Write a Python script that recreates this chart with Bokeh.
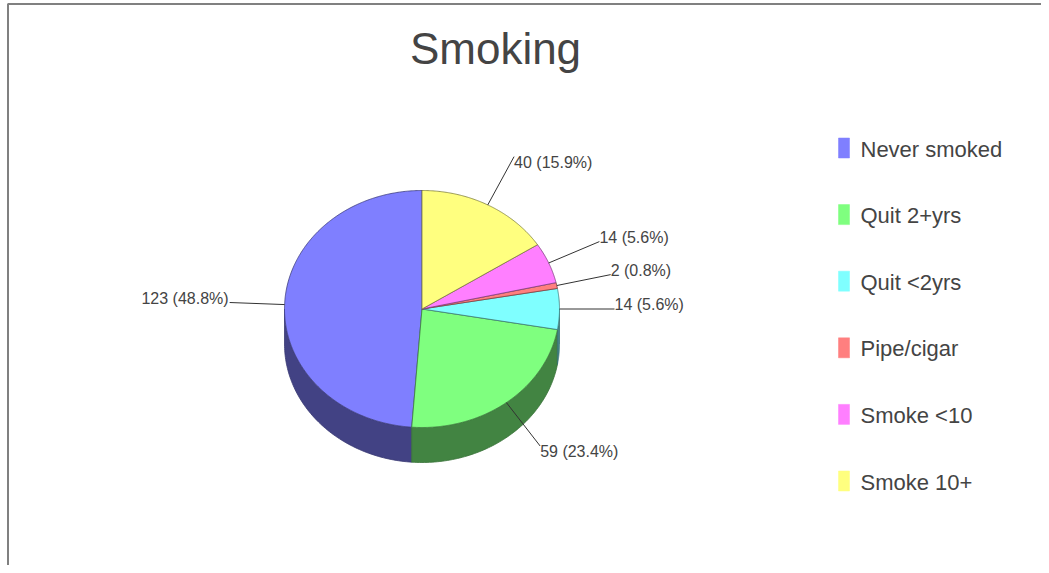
import numpy as np
from bokeh.plotting import figure
from bokeh.models import Range1d, ColumnDataSource
from bokeh.embed import file_html
from bokeh.resources import INLINE
from bokeh.core.properties import value

# ---- data ----
title = "Smoking"
categories = ["Never smoked", "Quit 2+yrs", "Quit <2yrs", "Pipe/cigar", "Smoke <10", "Smoke 10+"]
counts = [123, 59, 14, 2, 14, 40]
colors = ["#7f7fff", "#7fff7f", "#7fffff", "#ff7f7f", "#ff7fff", "#ffff7f"]

# ---- layout ----
W, H = 1041, 565
CX, CY = 421.5, 308.5
RX, RY = 137.5, 118.5
DEPTH = 35
LEADER = 55
FONT = "Liberation Sans"
TXT = "#444444"


def darker(hexc, f=0.5):
    h = hexc.lstrip("#")
    r, g, b = (int(h[i:i + 2], 16) for i in (0, 2, 4))
    return "#%02x%02x%02x" % (int(r * f), int(g * f), int(b * f))


def pt(t_deg, dy=0.0):
    t = np.radians(t_deg)
    return CX + RX * np.cos(t), CY - RY * np.sin(t) + dy


p = figure(width=W, height=H, x_range=Range1d(0, W), y_range=Range1d(H, 0),
           output_backend="svg", toolbar_location=None, min_border=0,
           x_axis_location=None, y_axis_location=None)
p.grid.visible = False
p.outline_line_color = None
p.background_fill_color = "white"

total = float(sum(counts))
fracs = [c / total for c in counts]
starts = []
a = 90.0
for f in fracs:
    starts.append(a)
    a += f * 360.0
ends = [s + f * 360.0 for s, f in zip(starts, fracs)]

# ---- side walls ----
sx, sy, sc, slc = [], [], [], []
for s, e, col in zip(starts, ends, colors):
    for lo, hi in ((180, 360), (540, 720)):
        a1, a2 = max(s, lo), min(e, hi)
        if a2 > a1:
            ts = np.linspace(a1, a2, 80)
            top = [pt(t) for t in ts]
            bot = [pt(t, DEPTH) for t in ts[::-1]]
            xs = [q[0] for q in top] + [q[0] for q in bot]
            ys = [q[1] for q in top] + [q[1] for q in bot]
            sx.append(xs)
            sy.append(ys)
            sc.append(darker(col, 0.52))
            slc.append(darker(col, 0.45))
p.patches(sx, sy, fill_color=sc, line_color=slc, line_width=0.8)

# ---- top faces ----
tx, ty, lc = [], [], []
for s, e, col in zip(starts, ends, colors):
    ts = np.linspace(s, e, max(4, int((e - s) * 2)))
    pts = [pt(t) for t in ts]
    tx.append([CX] + [q[0] for q in pts])
    ty.append([CY] + [q[1] for q in pts])
    lc.append(darker(col, 0.5))
p.patches(tx, ty, fill_color=colors, line_color=lc, line_width=0.8)

# ---- labels with leader lines ----
x0s, y0s, x1s, y1s = [], [], [], []
lx, ly, ltxt, lal = [], [], [], []
for c, f, s, e in zip(counts, fracs, starts, ends):
    m = (s + e) / 2.0
    bx, by = pt(m)
    dx, dy = np.cos(np.radians(m)), -np.sin(np.radians(m))
    ex, ey = bx + LEADER * dx, by + LEADER * dy
    x0s.append(bx); y0s.append(by); x1s.append(ex); y1s.append(ey)
    lx.append(ex + (0 if dx >= 0 else -1))
    ly.append(ey + (5.5 if abs(dy) > abs(dx) else -4.5))
    ltxt.append("%d (%.1f%%)" % (c, f * 100))
    lal.append("left" if dx >= 0 else "right")
p.segment(x0s, y0s, x1s, y1s, line_color="#333333", line_width=1)
lsrc = ColumnDataSource(dict(x=lx, y=ly, text=ltxt, align=lal))
p.text(x="x", y="y", text="text", source=lsrc, text_align="align", text_baseline="middle",
       text_font=value(FONT), text_font_size=value("16px"), text_color=TXT)

# ---- title ----
p.text(x=[495], y=[48], text=[title], text_align="center", text_baseline="middle",
       text_font=value(FONT), text_font_size=value("44px"), text_color=TXT)

# ---- legend ----
idx = np.arange(len(categories))
gy = 147.5 + idx * 66.6
p.rect(x=[843.5] * len(categories), y=gy, width=11, height=20,
       fill_color=colors, line_color=colors, line_alpha=0.5)
p.text(x=[860] * len(categories), y=gy + 1, text=categories, text_align="left",
       text_baseline="middle", text_font=value(FONT), text_font_size=value("22px"),
       text_color=TXT)

# ---- frame ----
p.segment([7.5, 7], [3.5, 3.5], [7.5, W], [H, 3.5], line_color="#808080", line_width=2)

open("out.html", "w").write(file_html(p, INLINE))
